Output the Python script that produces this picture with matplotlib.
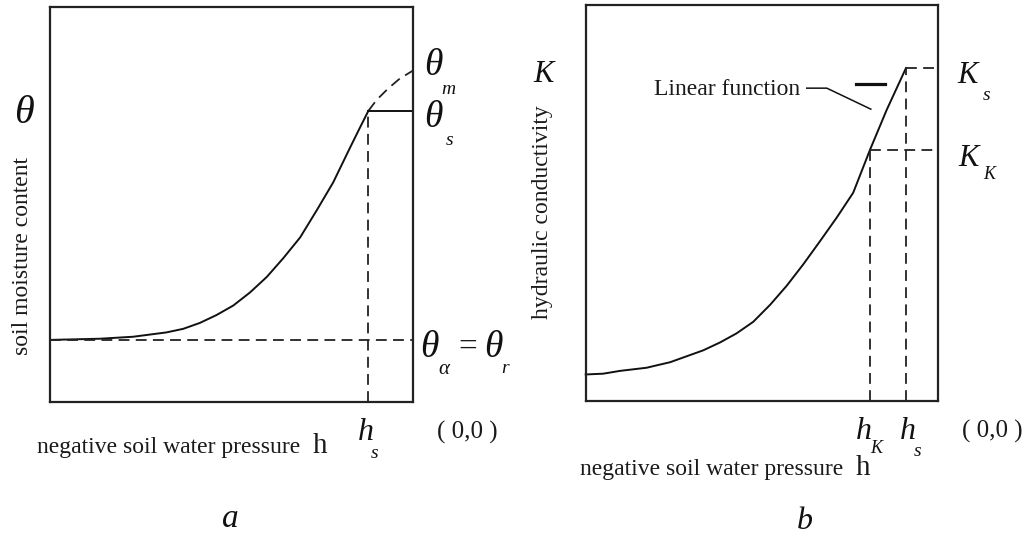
import matplotlib.pyplot as plt

plt.rcParams['font.family'] = ['Liberation Serif', 'Noto Sans CJK SC']

# (a) soil water retention curve, axes scaled 0..100
h_a = [0, 13.8, 22.9, 32.1, 36.7, 41.3, 45.9, 50.5, 55.1, 59.7, 64.3, 68.9, 73.5, 78.0, 82.6, 85.4, 87.7]
theta = [15.7, 16.0, 16.5, 17.6, 18.5, 20.0, 22.0, 24.4, 27.7, 31.6, 36.4, 41.6, 48.5, 55.5, 64.2, 69.4, 73.6]
# dashed continuation above h_s towards theta_m
h_ext = [87.7, 90.0, 93.2, 96.4, 100]
theta_ext = [73.6, 76.4, 79.3, 81.8, 83.8]
hs_a = 87.7
theta_s = 73.6
theta_r = 15.7
theta_m = 83.8

# (b) hydraulic conductivity curve
h_b = [0, 5.0, 9.7, 17.3, 24.0, 28.7, 33.4, 38.2, 42.9, 47.6, 52.4, 57.1, 61.8, 66.6,
       71.3, 76.0, 80.8, 85.5, 91.0]
K = [6.7, 6.9, 7.6, 8.4, 9.8, 11.3, 12.8, 14.8, 17.1, 20.0, 24.3, 29.1, 34.5, 40.4,
     46.3, 52.6, 63.5, 73.5, 84.1]
hK = 80.8
KK = 63.5
hs_b = 91.0
Ks = 84.1

W, H = 10.26, 5.38
fig = plt.figure(figsize=(W, H), dpi=100)
ax1 = fig.add_axes([50 / 1026, 136 / 538, 363 / 1026, 395.5 / 538])
ax2 = fig.add_axes([585.7 / 1026, 137 / 538, 352 / 1026, 396 / 538])

for ax in (ax1, ax2):
    ax.set_xlim(0, 100)
    ax.set_ylim(0, 100)
    ax.set_xticks([])
    ax.set_yticks([])
    for sp in ax.spines.values():
        sp.set_linewidth(1.6)
        sp.set_color('#222222')

dash = dict(color='#222222', lw=1.3, ls=(0, (6, 3.5)), clip_on=False)
solid = dict(color='#111111', lw=1.4, clip_on=False)

# ---- panel a ----
ax1.plot(h_a, theta, **solid)
ax1.plot(h_ext, theta_ext, **dash)
ax1.plot([hs_a, 100], [theta_s, theta_s], **solid)
ax1.plot([hs_a, hs_a], [0, theta_s], **dash)
ax1.plot([0, 100], [theta_r, theta_r], **dash)

it = dict(style='italic', ha='center', va='center', color='#111111')
txt = dict(ha='center', va='center', color='#1a1a1a')

ax1.text(-7.2, 72.9, 'θ', fontsize=29, **it)
ax1.text(-7.7, 36.9, 'soil moisture content', fontsize=17, rotation=90, **txt)
ax1.text(105.5, theta_m + 1.3, 'θ', fontsize=27, **it)
ax1.text(109.8, theta_m - 4.7, 'm', fontsize=14, **it)
ax1.text(105.6, theta_s - 1.7, 'θ', fontsize=27, **it)
ax1.text(110.2, theta_s - 7.6, 's', fontsize=14, **it)
ax1.text(104.4, theta_r - 1.9, 'θ', fontsize=27, **it)
ax1.text(108.6, theta_r - 7.6, 'α', fontsize=15, **it)
ax1.text(115.2, theta_r - 1.9, '=', fontsize=24, **txt)
ax1.text(122.1, theta_r - 1.9, 'θ', fontsize=27, **it)
ax1.text(125.3, theta_r - 7.2, 'r', fontsize=14, **it)
ax1.text(-3.6, -12.9, 'negative soil water pressure', fontsize=17, ha='left',
         va='baseline', color='#1a1a1a')
ax1.text(74.4, -12.9, 'h', fontsize=21, ha='center', va='baseline', color='#1a1a1a')
ax1.text(hs_a - 0.8, -7.8, 'h', fontsize=23, **it)
ax1.text(hs_a + 1.8, -12.9, 's', fontsize=14, **it)
ax1.text(115.0, -7.6, '( 0,0 )', fontsize=18, **txt)
ax1.text(49.6, -29.5, 'a', fontsize=24, **it)

# ---- panel b ----
ax2.plot(h_b, K, **solid)
ax2.plot([hK, 100], [KK, KK], **dash)
ax2.plot([hK, hK], [0, KK], **dash)
ax2.plot([hs_b, 100], [Ks, Ks], **dash)
ax2.plot([hs_b, hs_b], [0, Ks], **dash)

# leader for the linear segment label, plus the short bar
ax2.plot([62.8, 68.5, 81.0], [79.0, 79.0, 73.7], color='#111111', lw=1.1)
ax2.plot([76.8, 85.1], [80.1, 80.1], color='#111111', lw=2.3)
ax2.text(60.9, 78.7, 'Linear function', fontsize=17, ha='right', va='center',
         color='#1a1a1a')

ax2.text(-12.1, 82.4, 'K', fontsize=22, **it)
ax2.text(-12.3, 47.6, 'hydraulic conductivity', fontsize=17, rotation=90, **txt)
ax2.text(108.5, Ks - 2.0, 'K', fontsize=22, **it)
ax2.text(113.9, Ks - 7.0, 's', fontsize=14, **it)
ax2.text(108.9, KK - 2.2, 'K', fontsize=22, **it)
ax2.text(114.6, KK - 6.3, 'K', fontsize=13, **it)
ax2.text(-1.6, -18.7, 'negative soil water pressure', fontsize=17, ha='left',
         va='baseline', color='#1a1a1a')
ax2.text(78.9, -18.7, 'h', fontsize=21, ha='center', va='baseline', color='#1a1a1a')
ax2.text(hK - 1.9, -7.8, 'h', fontsize=23, **it)
ax2.text(hK + 1.6, -12.1, 'K', fontsize=13, **it)
ax2.text(hs_b + 0.4, -7.8, 'h', fontsize=23, **it)
ax2.text(hs_b + 3.4, -12.8, 's', fontsize=14, **it)
ax2.text(115.6, -7.8, '( 0,0 )', fontsize=18, **txt)
ax2.text(62.3, -30.5, 'b', fontsize=23, **it)

fig.savefig('out.png', dpi=100, facecolor='white')
